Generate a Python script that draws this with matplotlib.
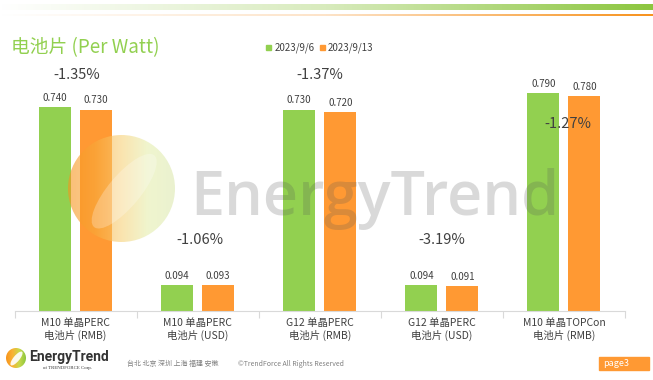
import numpy as np
import matplotlib
matplotlib.use("Agg")
import matplotlib.pyplot as plt
from matplotlib.patches import Circle, Rectangle, Ellipse
from matplotlib.colors import LinearSegmentedColormap

plt.rcParams['font.family'] = ['Noto Sans CJK SC', 'DejaVu Sans']

# ---------------- data ----------------
categories = ["M10 单晶PERC\n电池片 (RMB)", "M10 单晶PERC\n电池片 (USD)",
              "G12 单晶PERC\n电池片 (RMB)", "G12 单晶PERC\n电池片 (USD)",
              "M10 单晶TOPCon\n电池片 (RMB)"]
series_names = ["2023/9/6", "2023/9/13"]
prices_0906 = [0.740, 0.094, 0.730, 0.094, 0.790]
prices_0913 = [0.730, 0.093, 0.720, 0.091, 0.780]
title = "电池片 (Per Watt)"

# ---------------- layout ----------------
GREEN = "#92D050"
ORANGE = "#FF9933"
TXT = "#404040"
W, H = 653, 380
fig = plt.figure(figsize=(W / 100, H / 100), dpi=100)

left_px, right_px = 14.6, 625
base_px = 311
ppu = 276          # pixels per unit
ymax = 1.0
top_px = base_px - ppu * ymax
ax = fig.add_axes([left_px / W, 1 - base_px / H, (right_px - left_px) / W, (base_px - top_px) / H])
ax.patch.set_alpha(0)

x = np.arange(len(categories))
bw = 0.262
off = 0.168
b1 = ax.bar(x - off, prices_0906, bw, color=GREEN, label=series_names[0])
b2 = ax.bar(x + off, prices_0913, bw, color=ORANGE, label=series_names[1])
ax.bar_label(b1, fmt='%.3f', padding=3, fontsize=7, color=TXT)
ax.bar_label(b2, fmt='%.3f', padding=3, fontsize=7, color=TXT)
ax.set_xlim(-0.5, len(categories) - 0.5)
ax.set_ylim(0, ymax)
for sp in ['top', 'right', 'left']:
    ax.spines[sp].set_visible(False)
ax.spines['bottom'].set_color('#d9d9d9')
ax.set_yticks([])
ax.set_xticks(np.arange(-0.5, len(categories)), labels=[''] * (len(categories) + 1))
ax.tick_params(axis='x', which='major', length=5, color='#d9d9d9')
ax.set_xticks(x, labels=categories, minor=True)
ax.tick_params(axis='x', which='minor', length=0, pad=5, labelsize=7.5, labelcolor=TXT)
for lab in ax.get_xticklabels(minor=True):
    lab.set_linespacing(1.25)

# percent-change labels
pct_y_px = [75, 240, 75, 240, 124]
pct_dx = [0.01, 0.02, 0.0, 0.0, 0.03]
for i, (a, b) in enumerate(zip(prices_0906, prices_0913)):
    pct = (b - a) / a * 100
    yv = (base_px - pct_y_px[i]) / ppu
    ax.text(i + pct_dx[i], yv, f"{pct:.2f}%", fontsize=10.5, color=TXT,
            ha='center', va='center', zorder=6)

# ---------------- overlay decorations ----------------
ov = fig.add_axes([0, 0, 1, 1], zorder=5)
ov.axis('off')
ov.patch.set_alpha(0)

grad = np.linspace(0, 1, 512)[None, :]
cm_g = LinearSegmentedColormap.from_list('g', ['#ffffff', '#d8ebbd', '#8cc63f'])
cm_o = LinearSegmentedColormap.from_list('o', ['#ffffff', '#fde3c8', '#f7931e'])
ov.imshow(grad, extent=[0, W, 10, 4], cmap=cm_g, aspect='auto', zorder=1)
ov.imshow(grad, extent=[0, W, 16.5, 14.5], cmap=cm_o, aspect='auto', zorder=1)

ov.text(11, 48, title, fontsize=13.5, color=GREEN, va='center', ha='left')

# legend
ov.add_patch(Rectangle((266, 45), 5, 5, color=GREEN))
ov.text(275, 47.5, series_names[0], fontsize=7, color=TXT, va='center')
ov.add_patch(Rectangle((320, 45), 5, 5, color=ORANGE))
ov.text(328, 47.5, series_names[1], fontsize=7, color=TXT, va='center')


def draw_logo(a, cx, cy, r, alpha, leaf_alpha, colors):
    cmap = LinearSegmentedColormap.from_list('l', colors)
    g = np.linspace(0, 1, 256)[None, :]
    im = a.imshow(g, extent=[cx - r, cx + r, cy + r, cy - r], cmap=cmap,
                  aspect='auto', alpha=alpha, zorder=3, interpolation='bilinear')
    circ = Circle((cx, cy), r, transform=a.transData)
    im.set_clip_path(circ)
    leaf = Ellipse((cx + 0.05 * r, cy + 0.05 * r), 0.6 * r, 1.75 * r, angle=40,
                   facecolor='white', edgecolor='none', alpha=leaf_alpha, zorder=4)
    a.add_patch(leaf)
    leaf.set_clip_path(Circle((cx, cy), r * 0.98, transform=a.transData))


ov.set_xlim(0, W)
ov.set_ylim(H, 0)
draw_logo(ov, 121.5, 188.5, 53.5, 0.6, 0.25,
          ['#f7941d', '#f9a93a', '#f8d27a', '#e6efae', '#dde9b0'])
ov.text(375, 215, "EnergyTrend", fontsize=44, family='Open Sans', weight='semibold',
        color='#555555', alpha=0.22, ha='center', va='baseline', zorder=5)

# footer
draw_logo(ov, 16, 358, 10, 1.0, 0.9, ['#f7941d', '#f9b233', '#c8d94a', '#8cc63f'])
ov.text(29, 357, "EnergyTrend", fontsize=10, family='Roboto', weight='bold', color='#333333', va='center')
ov.text(43, 368, "of TRENDFORCE Corp.", fontsize=3.5, family='Liberation Serif', color='#333333', va='center')
ov.text(127, 364, "台北 北京 深圳 上海 福建 安徽", fontsize=5, color='#808080', va='center')
ov.text(238, 364, "©TrendForce All Rights Reserved", fontsize=5, color='#808080', va='center')
ov.add_patch(Rectangle((599, 357), 50, 13, color=ORANGE))
ov.text(603, 363.5, "page3", fontsize=6.5, color='white', va='center')
ov.set_xlim(0, W)
ov.set_ylim(H, 0)

fig.savefig("out.png", dpi=100)
